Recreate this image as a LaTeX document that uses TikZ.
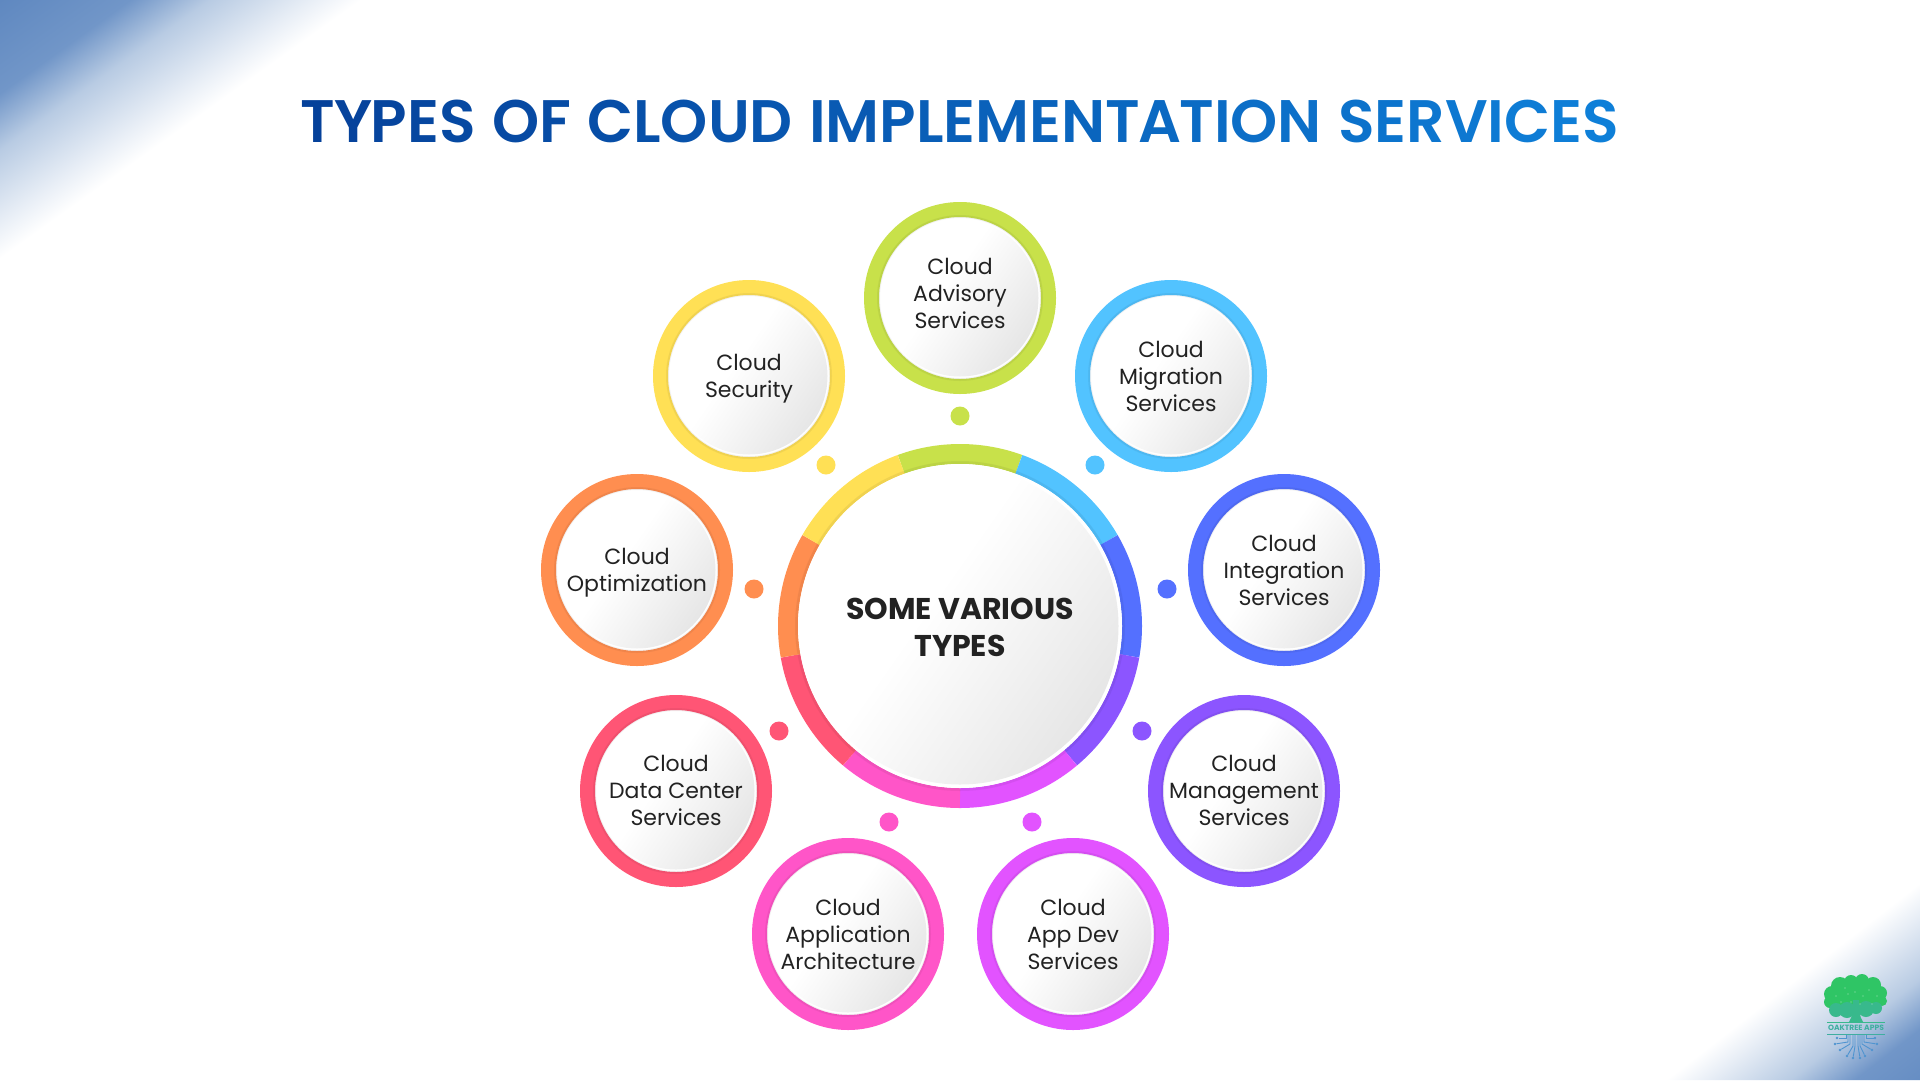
\documentclass[tikz,border=0pt]{standalone}
\usepackage{fontspec}
\setmainfont{Poppins}
\newfontfamily\headingfont{Poppins SemiBold}
\usetikzlibrary{calc}

\definecolor{inktext}{HTML}{222222}
\definecolor{titlea}{HTML}{053F98}
\definecolor{titleb}{HTML}{0E7FD8}
\definecolor{cornerblue}{HTML}{5F88C0}
\definecolor{cornerband}{HTML}{7196C8}
\definecolor{cornermid}{HTML}{B8CBE3}
\definecolor{cornerpale}{HTML}{E8EEF6}
\definecolor{cgreen}{HTML}{C8E14A}
\definecolor{csky}{HTML}{52C3FF}
\definecolor{cindigo}{HTML}{5470FF}
\definecolor{cviolet}{HTML}{8C55FF}
\definecolor{corchid}{HTML}{E253FF}
\definecolor{cpink}{HTML}{FF55C8}
\definecolor{cred}{HTML}{FF5575}
\definecolor{corange}{HTML}{FF8E50}
\definecolor{cyellow}{HTML}{FFE055}
\definecolor{faceedge}{HTML}{E6E6E6}
\definecolor{leafa}{HTML}{2FC565}
\definecolor{leafb}{HTML}{38B98C}
\definecolor{rootblue}{HTML}{4F94D0}

% Corner wash: stops sit between 25bp and 75bp, the span TikZ maps onto the path
\pgfdeclarehorizontalshading{cornerwash}{100bp}{
  color(0bp)=(cornerblue); color(25bp)=(cornerblue); color(43bp)=(cornerband);
  color(54bp)=(cornermid); color(68bp)=(cornerpale); color(75bp)=(white); color(100bp)=(white)}
% Disc face: white over most of the disc, grey towards the lower right
\pgfdeclarehorizontalshading{discface}{100bp}{
  color(0bp)=(white); color(44bp)=(white); color(75bp)=(faceedge); color(100bp)=(faceedge)}

% Title letters stepped through a left-to-right colour ramp
\newcounter{titlepos}
\newcommand{\rampletter}[1]{\stepcounter{titlepos}%
  \pgfmathtruncatemacro{\rampmix}{100-100*\value{titlepos}/34}%
  \textcolor{titlea!\rampmix!titleb}{#1}}
\newcommand{\wordgap}{\hspace{16.4pt}}

\tikzset{
  ringdisc/.style={circle,minimum size=177pt,inner sep=0pt,outer sep=0pt,line width=15pt,fill=white},
  hubring/.style={line width=20pt},
  facedisc/.style={circle,minimum size=#1,inner sep=0pt,outer sep=0pt,shading=discface,shading angle=-35},
  satlabel/.style={font=\fontsize{22}{27}\selectfont,align=center,text=inktext,inner sep=0pt},
  hublabel/.style={font=\fontsize{30}{37}\selectfont\bfseries,align=center,text=inktext,inner sep=0pt},
  bead/.style={circle,minimum size=19pt,inner sep=0pt,outer sep=0pt},
  title/.style={font=\fontsize{60}{60}\selectfont\headingfont,inner sep=0pt},
  leaf/.style={circle,inner sep=0pt,fill=#1},
  speck/.style={circle,inner sep=0pt,minimum size=1.4pt,fill=white,opacity=.55},
  rootline/.style={draw=rootblue,line width=.9pt},
  rootdot/.style={circle,inner sep=0pt,minimum size=2.6pt,fill=rootblue},
}

% A coloured ring around a shaded face, with the label set over the face
\newcommand{\satellite}[6]{%
  \node[ringdisc,draw=#1] (#2) at (#3,#4) {};
  \foreach \r in {82.5,81.5,80.5}{\draw[black,opacity=.05,line width=1pt] (#2) circle[radius=\r pt];}
  \node[facedisc=157pt] (#2face) at (#2) {};
  \node[satlabel,yshift=#5 pt] (#2label) at (#2) {#6};
}

\begin{document}
\begin{tikzpicture}[x=1pt,y=-1pt]
\useasboundingbox (0,0) rectangle (1920,1080);
\fill[white] (0,0) rectangle (1920,1080);

% Top-left corner wash
\begin{scope}
  \clip (0,0) -- (360,0) -- (0,258) -- cycle;
  \begin{scope}[transform canvas={rotate=-54.4}]
    \shade[shading=cornerwash] (0pt,-500pt) rectangle (210pt,500pt);
  \end{scope}
\end{scope}
% Bottom-right corner wash
\begin{scope}
  \clip (1920,1080) -- (1665,1080) -- (1920,882) -- cycle;
  \begin{scope}[transform canvas={shift={(1920pt,-1080pt)},rotate=127.8}]
    \shade[shading=cornerwash] (-25pt,-500pt) rectangle (156pt,500pt);
  \end{scope}
\end{scope}

% Heading
\node[title,anchor=center] (heading) at (960,121) {%
  \rampletter{T}\kern-1.5pt\rampletter{Y}\kern-1.5pt\rampletter{P}\rampletter{E}\rampletter{S}\wordgap
  \rampletter{O}\rampletter{F}\wordgap
  \rampletter{C}\rampletter{L}\rampletter{O}\rampletter{U}\rampletter{D}\wordgap
  \rampletter{I}\rampletter{M}\rampletter{P}\rampletter{L}\rampletter{E}\rampletter{M}\rampletter{E}\rampletter{N}\rampletter{T}\kern-2pt\rampletter{A}\kern-2pt\rampletter{T}\rampletter{I}\rampletter{O}\rampletter{N}\wordgap
  \rampletter{S}\rampletter{E}\rampletter{R}\rampletter{V}\rampletter{I}\rampletter{C}\rampletter{E}\rampletter{S}};

% Satellites, clockwise from the top
\satellite{cgreen}{advisory}{960}{298}{5}{Cloud\\Advisory\\Services}
\satellite{csky}{migration}{1171}{376}{0}{Cloud\\Migration\\Services}
\satellite{cindigo}{integration}{1284}{570}{0}{Cloud\\Integration\\Services}
\satellite{cviolet}{management}{1244}{791}{1}{Cloud\\Management\\Services}
\satellite{corchid}{appdev}{1073}{934}{0}{Cloud\\App Dev\\Services}
\satellite{cpink}{architecture}{848}{934}{0}{Cloud\\Application\\Architecture}
\satellite{cred}{datacenter}{676}{791}{1}{Cloud\\Data Center\\Services}
\satellite{corange}{optimization}{637}{570}{-2.4}{Cloud\\Optimization}
\satellite{cyellow}{security}{749}{376}{-2.4}{Cloud\\Security}

% Beads between the hub and each satellite
\node[bead,fill=cgreen] (beadadvisory) at (960,416) {};
\node[bead,fill=csky] (beadmigration) at (1095,465) {};
\node[bead,fill=cindigo] (beadintegration) at (1167,589) {};
\node[bead,fill=cviolet] (beadmanagement) at (1142,731) {};
\node[bead,fill=corchid] (beadappdev) at (1032,822) {};
\node[bead,fill=cpink] (beadarchitecture) at (889,822) {};
\node[bead,fill=cred] (beaddatacenter) at (779,731) {};
\node[bead,fill=corange] (beadoptimization) at (754,589) {};
\node[bead,fill=cyellow] (beadsecurity) at (826,465) {};

% Hub: nine 40-degree ring segments around a shaded disc
\coordinate (hub) at (960,626);
\foreach \ca/\cb/\col in {70/110/cgreen,30/70/csky,-10/30/cindigo,-50/-10/cviolet,-90/-50/corchid,
    -130/-90/cpink,-170/-130/cred,-210/-170/corange,110/150/cyellow}{
  \draw[hubring,draw=\col] (hub) ++(\ca:172pt) arc[start angle=\ca,end angle=\cb,radius=172pt];
}
\foreach \r in {164.5,163.5,162.5}{\draw[black,opacity=.05,line width=1pt] (hub) circle[radius=\r pt];}
\node[circle,fill=white,minimum size=324pt,inner sep=0pt,outer sep=0pt] (hubrim) at (hub) {};
\node[facedisc=317pt] (hubface) at (hub) {};
\node[hublabel,yshift=-1pt] (hublabel) at (hub) {SOME VARIOUS\\TYPES};

% Logo: tree crown, trunk, rules, name and roots
\foreach \lx/\ly/\lr/\lc in {1840/986/9/leafa,1851/982/7/leafa,1862/981/7/leafa,1873/985/8/leafa,
    1880/993/7/leafa,1832/994/8/leafa,1830/1002/6/leafa,1882/1001/5/leafa,1856/995/14/leafa,1842/998/12/leafa,
    1871/998/11/leafa,1836/1010/7/leafb,1847/1010/8/leafb,1866/1009/8/leafb,1876/1008/6/leafb}{
  \node[leaf=\lc,minimum size=2*\lr pt] at (\lx,\ly) {};
}
\fill[leafb] (1849,1022) .. controls (1853,1016) and (1853,1008) .. (1853,1000) -- (1859,1000)
  .. controls (1859,1008) and (1859,1016) .. (1863,1022) -- cycle;
\foreach \sx/\sy in {1848/994,1855/992,1863/996,1869/990,1841/1002,1872/1004,1851/1002,1860/1004,1836/996,1877/996,1845/988}{
  \node[speck] at (\sx,\sy) {};
}
\coordinate (rulewa) at (1827,1022); \coordinate (ruleea) at (1885,1022);
\coordinate (rulewb) at (1827,1034); \coordinate (ruleeb) at (1885,1034);
\draw[leafb,line width=.8pt] (rulewa) -- (ruleea);
\draw[leafb!70!rootblue,line width=.8pt] (rulewb) -- (ruleeb);
\node[inner sep=0pt,text=leafb!70!rootblue,font=\fontsize{7.6}{8}\selectfont\bfseries] (logoname) at (1856,1028) {OAKTREE APPS};
\foreach \rx/\ry/\mx/\my in {1837/1038/1846/1038,1835/1044/1848/1042,1840/1050/1850/1044,1847/1056/1853/1046,
    1853/1058/1855/1046,1860/1058/1858/1046,1865/1056/1860/1046,1872/1050/1862/1044,1877/1044/1864/1042,1875/1038/1866/1038}{
  \node[rootdot] (rootend) at (\rx,\ry) {};
  \coordinate (roottop) at (\mx,1035);
  \draw[rootline] (roottop) -- (\mx,\my) -- (rootend);
}
\end{tikzpicture}
\end{document}
